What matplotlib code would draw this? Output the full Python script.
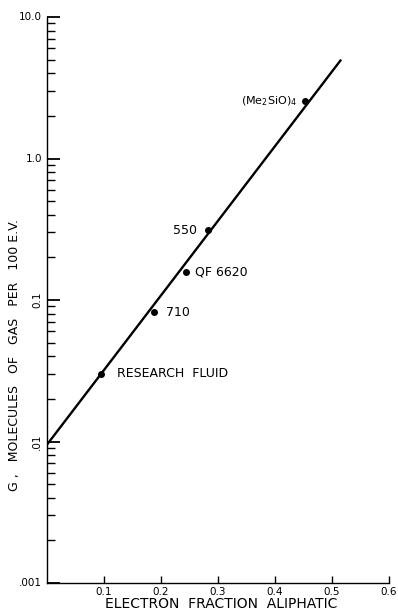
import matplotlib
matplotlib.use("Agg")
import matplotlib.pyplot as plt
from matplotlib.ticker import LogLocator, NullFormatter, FixedLocator, FixedFormatter

# Data
names = ["RESEARCH  FLUID", "710", "QF 6620", "550", r"(Me$_2$SiO)$_4$"]
frac_aliphatic = [0.095, 0.188, 0.243, 0.282, 0.453]
g_values = [0.030, 0.082, 0.157, 0.31, 2.55]
fit_x = [0.0, 0.516]
fit_g = [0.0095, 5.0]

xticks = [0.1, 0.2, 0.3, 0.4, 0.5, 0.6]
xticklabels = ["0.1", "0.2", "0.3", "0.4", "0.5", "0.6"]
yticks = [10.0, 1.0, 0.1, 0.01, 0.001]
yticklabels = ["10.0", "1.0", "0.1", ".01", ".001"]

plt.rcParams['font.family'] = ['DejaVu Sans']
fig = plt.figure(figsize=(3.98, 6.13), dpi=100)
ax = fig.add_axes([47/398, 30/613, 342/398, 566/613])

ax.plot(fit_x, fit_g, color="black", lw=1.7, solid_capstyle="butt")
ax.plot(frac_aliphatic, g_values, "o", color="black", ms=4)

ax.set_yscale("log")
ax.set_xlim(0, 0.6)
ax.set_ylim(0.001, 10.0)

for s in ["top", "right"]:
    ax.spines[s].set_visible(False)
for s in ["left", "bottom"]:
    ax.spines[s].set_linewidth(1.0)

ax.xaxis.set_major_locator(FixedLocator(xticks))
ax.xaxis.set_major_formatter(FixedFormatter(xticklabels))
ax.yaxis.set_major_locator(FixedLocator(yticks))
ax.yaxis.set_major_formatter(NullFormatter())
ax.yaxis.set_minor_locator(LogLocator(base=10, subs=range(2, 10)))
ax.yaxis.set_minor_formatter(NullFormatter())
ax.tick_params(axis="x", direction="in", length=5, width=1, labelsize=7.5, pad=3)
ax.tick_params(axis="y", which="major", direction="in", length=9, width=1.3)
ax.tick_params(axis="y", which="minor", direction="in", length=6, width=1)

# y tick labels (some rotated as in the original)
rots = [0, 0, 90, 90, 0]
for v, lab, r in zip(yticks, yticklabels, rots):
    ax.text(-0.014, v, lab, ha="right", va="center", rotation=r, fontsize=7.5,
            transform=ax.get_yaxis_transform())

# point labels
offs = [(16, "left", 9), (12, "left", 9), (9, "left", 9), (-11, "right", 9), (-8, "right", 8)]
for n, x, y, (dx, ha, fs) in zip(names, frac_aliphatic, g_values, offs):
    ax.annotate(n, (x, y), xytext=(dx, 0), textcoords="offset pixels",
                ha=ha, va="center", fontsize=fs)

fig.text(221/398, 1 - 604/613, "ELECTRON  FRACTION  ALIPHATIC", ha="center", va="center", fontsize=10)
fig.text(15/398, 1 - 355/613, "G ,   MOLECULES   OF   GAS   PER   100 E.V.", ha="center", va="center",
         rotation=90, fontsize=9)

fig.savefig("out.png", dpi=100)
